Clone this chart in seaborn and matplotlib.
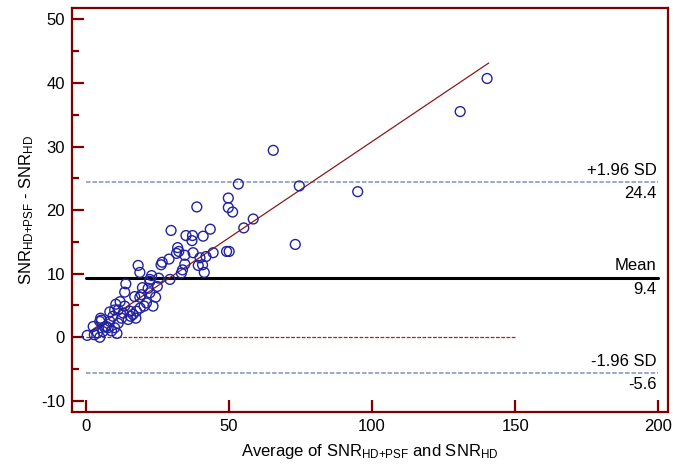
import matplotlib
matplotlib.use("Agg")
import matplotlib.pyplot as plt
import numpy as np
import pandas as pd
import seaborn as sns

# Bland-Altman data
avg_snr = [
    0.5, 2.6, 3.0, 4.1, 4.9, 4.9, 5.2, 5.5, 6.6, 7.2, 7.8, 8.4, 8.4, 9.5,
    10.1, 10.1, 10.5, 10.9, 11.3, 11.3, 12.5, 13.1, 13.6, 13.6, 14.0, 14.8,
    15.4, 15.7, 12.0, 16.5, 6.0, 9.0, 19.0, 25.0,
    17.1, 17.5, 17.7, 18.3, 18.9, 18.9, 19.5, 19.8, 20.4, 21.2, 21.8, 22.4,
    22.4, 22.4, 23.0, 23.5, 24.4, 25.5, 26.3, 26.7, 29.1, 29.4, 29.8,
    31.7, 32.1, 32.5, 33.4, 33.8, 34.6, 34.6, 35.0, 37.1, 37.3, 37.5, 38.8,
    39.3, 39.9, 40.8, 41.0, 41.4, 42.0, 43.5, 44.5,
    49.2, 50.1, 49.8, 49.8, 51.3, 53.3, 55.2, 58.5, 65.5, 73.2, 74.6, 95.0,
    130.8, 140.2,
]
diff_snr = [
    0.3, 1.7, 0.4, 0.7, 0.0, 2.5, 3.0, 2.7, 1.6, 1.7, 1.5, 4.0, 2.5, 3.3,
    1.5, 4.3, 5.2, 0.6, 2.2, 4.3, 3.0, 3.8, 4.9, 7.1, 8.4, 2.8,
    4.1, 3.3, 5.6, 3.6, 0.9, 1.0, 4.6, 8.0,
    6.4, 3.0, 4.1, 11.3, 10.2, 6.3, 6.7, 7.8, 4.9, 5.4, 7.7, 8.8,
    7.0, 9.1, 9.7, 4.9, 6.3, 9.3, 11.4, 11.8, 12.3, 9.1, 16.8,
    13.2, 14.1, 13.5, 10.1, 10.6, 11.5, 12.9, 16.0, 15.2, 16.0, 13.3, 20.5,
    11.3, 12.5, 11.4, 15.9, 10.2, 12.7, 17.0, 13.3,
    13.5, 13.5, 21.9, 20.4, 19.7, 24.1, 17.2, 18.6, 29.4, 14.6, 23.8, 22.9,
    35.5, 40.7,
]

mean_diff = 9.4
upper_loa = 24.4
lower_loa = -5.6
reg_intercept = 0.48
reg_slope = 0.303

x_ticks = [0, 50, 100, 150, 200]
y_ticks = [-10, 0, 10, 20, 30, 40, 50]

FRAME = "#800000"
POINT = "#2222a0"
SD_COLOR = "#7b93b8"

sns.set_style("white")
plt.rcParams["font.family"] = ["Liberation Sans", "DejaVu Sans"]
plt.rcParams["mathtext.default"] = "regular"
plt.rcParams["axes.unicode_minus"] = False
plt.rcParams["text.color"] = "black"
plt.rcParams["axes.labelcolor"] = "black"

df = pd.DataFrame({"avg": avg_snr, "diff": diff_snr})

fig = plt.figure(figsize=(6.73, 4.65), dpi=100)
ax = fig.add_axes([0.107, 0.114, 0.886, 0.869])

# limit lines
ax.plot([0, 200], [upper_loa, upper_loa], color=SD_COLOR, lw=1.1, ls=(0, (3, 1.2)), zorder=1)
ax.plot([0, 200], [lower_loa, lower_loa], color=SD_COLOR, lw=1.1, ls=(0, (3, 1.2)), zorder=1)
ax.plot([0, 200], [mean_diff, mean_diff], color="black", lw=2.2, zorder=1)
ax.plot([0, 150], [0, 0], color="#a02828", lw=0.9, ls=(0, (3, 1.2)), zorder=1)

# regression line over the data range
xr = np.array([1.4, max(avg_snr) + 0.6])
ax.plot(xr, reg_intercept + reg_slope * xr, color="#8b1a1a", lw=0.9, zorder=2)

sns.scatterplot(data=df, x="avg", y="diff", ax=ax, marker="o", s=50,
                facecolor="none", edgecolor=POINT, linewidth=1.0, zorder=3)

for val, top, bottom in [(upper_loa, "+1.96 SD", "24.4"),
                         (mean_diff, "Mean", "9.4"),
                         (lower_loa, "-1.96 SD", "-5.6")]:
    ax.annotate(top, xy=(199.5, val), xytext=(0, 3), textcoords="offset points",
                ha="right", va="bottom", fontsize=12)
    ax.annotate(bottom, xy=(199.5, val), xytext=(0, -3), textcoords="offset points",
                ha="right", va="top", fontsize=12)

ax.set_xlim(-4.8, 203.5)
ax.set_ylim(-11.75, 51.8)
ax.set_xticks(x_ticks)
ax.set_yticks(y_ticks)
ax.set_yticks([-5, 5, 15, 25, 35, 45], minor=True)

for side in ax.spines.values():
    side.set_color(FRAME)
    side.set_linewidth(1.6)

ax.tick_params(axis="both", which="major", direction="in", length=8.5, width=1.6,
               color=FRAME, labelsize=12, labelcolor="black", pad=5)
ax.tick_params(axis="y", which="minor", direction="in", length=5, width=1.6,
               color=FRAME, left=True)
ax.tick_params(bottom=True, left=True, top=False, right=False)

ax.set_xlabel("Average of SNR$_{HD{+}PSF}$ and SNR$_{HD}$", fontsize=12, labelpad=6)
ax.set_ylabel("SNR$_{HD{+}PSF}$ - SNR$_{HD}$", fontsize=12, labelpad=4)

fig.savefig("out.png", dpi=100)
plt.close(fig)
